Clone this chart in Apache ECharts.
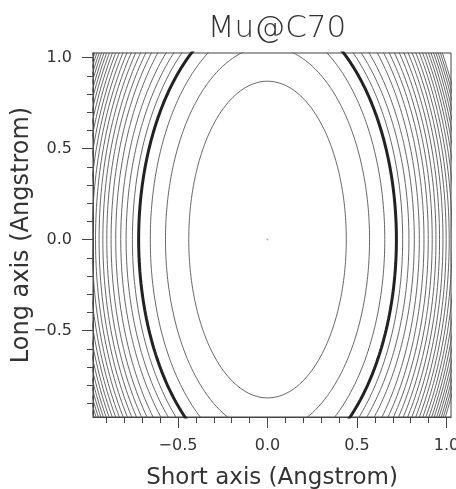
<!DOCTYPE html>
<html>
<head>
<meta charset="utf-8">
<script src="https://cdn.jsdelivr.net/npm/echarts@6/dist/echarts.min.js"></script>
<style>
  html, body { margin: 0; padding: 0; background: #fff; }
  #main { width: 456px; height: 489px; }
</style>
</head>
<body>
<div id="main"></div>
<script>
// contour semi-axes (Angstrom)
const contourA = [0.44, 0.57, 0.655, 0.72, 0.755, 0.79, 0.82, 0.848, 0.874, 0.898, 0.92, 0.941,
  0.961, 0.98, 0.998, 1.015, 1.031, 1.046, 1.06, 1.073, 1.085, 1.097, 1.108, 1.119, 1.129, 1.139];
const contourB = [0.87, 1.06, 1.19, 1.27, 1.326, 1.37, 1.42, 1.485, 1.53, 1.57, 1.61, 1.647,
  1.682, 1.715, 1.747, 1.776, 1.804, 1.83, 1.855, 1.878, 1.899, 1.92, 1.939, 1.958, 1.976, 1.993];
const thickIndex = 3;
const minorTicks = [-0.9, -0.8, -0.7, -0.6, -0.5, -0.4, -0.3, -0.2, -0.1, 0, 0.1, 0.2, 0.3, 0.4, 0.5, 0.6, 0.7, 0.8, 0.9, 1.0];
const majorTicks = [-0.5, 0, 0.5, 1.0];
const axisMin = -0.975;
const axisMax = 1.025;

function ellipse(a, b) {
  let pts = [];
  for (let i = 0; i <= 360; i++) {
    let t = i * Math.PI / 180;
    pts.push([a * Math.cos(t), b * Math.sin(t)]);
  }
  return pts;
}

const fmt = (v) => v.toFixed(1).replace('-', '\u2212');
const font = 'DejaVu Sans';

let series = contourA.map((a, i) => ({
  type: 'line',
  data: ellipse(a, contourB[i]),
  showSymbol: false,
  clip: true,
  silent: true,
  lineStyle: {
    color: i === thickIndex ? '#222' : '#555',
    width: i === thickIndex ? 3 : 0.9
  }
}));
series.push({
  type: 'scatter',
  data: [[0, 0]],
  symbolSize: 2,
  itemStyle: { color: '#999' },
  silent: true
});

let myChart = echarts.init(document.getElementById('main'));
myChart.setOption({
  animation: false,
  title: {
    text: 'Mu@C70',
    left: 272,
    textAlign: 'center',
    top: 8,
    textStyle: { fontFamily: font, fontSize: 31, fontWeight: 'lighter', color: '#333' }
  },
  grid: {
    left: 93, right: 5, top: 53, bottom: 72,
    outerBoundsMode: 'none', containLabel: false,
    show: true, borderColor: '#444', borderWidth: 1
  },
  xAxis: [
    {
      type: 'value', min: axisMin, max: axisMax, position: 'bottom',
      name: 'Short axis (Angstrom)', nameLocation: 'middle', nameGap: 50, nameMoveOverlap: false,
      nameTextStyle: { fontFamily: font, fontSize: 23, color: '#333' },
      axisLine: { onZero: false, lineStyle: { color: '#444' } },
      axisTick: { customValues: minorTicks, length: 6, inside: false, lineStyle: { color: '#444' } },
      axisLabel: { customValues: majorTicks, formatter: fmt, margin: 21, fontFamily: font, fontSize: 16, color: '#333' },
      splitLine: { show: false }
    },
    {
      type: 'value', min: axisMin, max: axisMax, position: 'bottom',
      axisLine: { show: false, onZero: false },
      axisTick: { customValues: majorTicks, length: 11, lineStyle: { color: '#444' } },
      axisLabel: { show: false },
      splitLine: { show: false }
    }
  ],
  yAxis: [
    {
      type: 'value', min: axisMin, max: axisMax, position: 'left',
      name: 'Long axis (Angstrom)', nameLocation: 'middle', nameGap: 59, nameRotate: 90, nameMoveOverlap: false,
      nameTextStyle: { fontFamily: font, fontSize: 24, color: '#333' },
      axisLine: { onZero: false, lineStyle: { color: '#444' } },
      axisTick: { customValues: minorTicks, length: 6, lineStyle: { color: '#444' } },
      axisLabel: { customValues: majorTicks, formatter: fmt, margin: 21, fontFamily: font, fontSize: 16, color: '#333' },
      splitLine: { show: false }
    },
    {
      type: 'value', min: axisMin, max: axisMax, position: 'left',
      axisLine: { show: false, onZero: false },
      axisTick: { customValues: majorTicks, length: 11, lineStyle: { color: '#444' } },
      axisLabel: { show: false },
      splitLine: { show: false }
    }
  ],
  series: series
});
</script>
</body>
</html>
